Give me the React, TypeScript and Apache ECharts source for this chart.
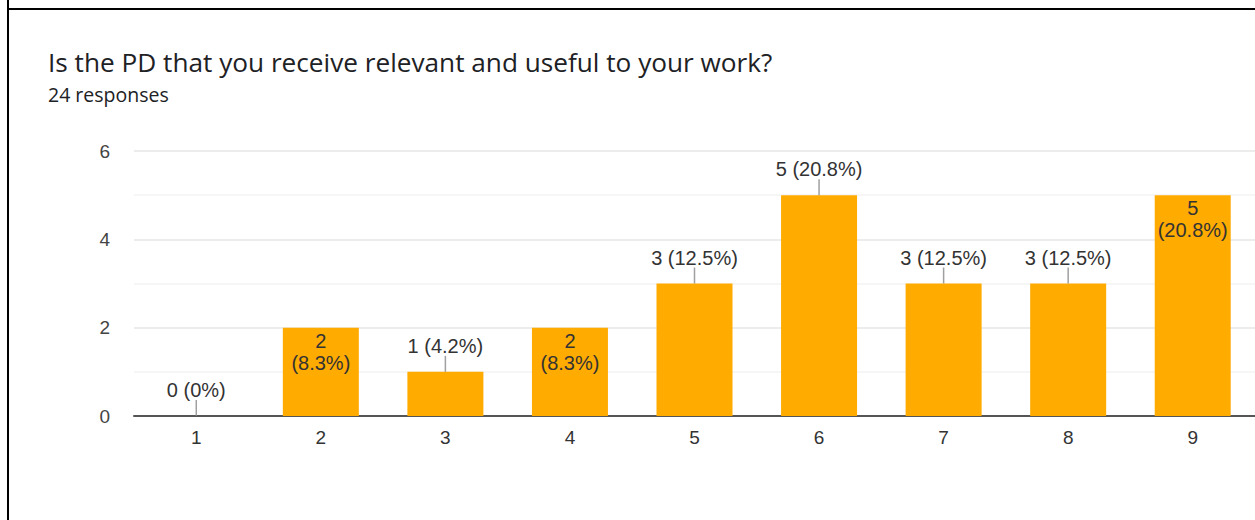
import React, { useEffect, useRef } from "react";
import * as echarts from "echarts";

const TITLE = "Is the PD that you receive relevant and useful to your work?";
const SUBTITLE = "24 responses";
const categories = ["1", "2", "3", "4", "5", "6", "7", "8", "9"];
const counts = [0, 2, 1, 2, 3, 5, 3, 3, 5];
const insideLabelIdx = [1, 3, 8];

const total = counts.reduce((a, b) => a + b, 0);
const pct = (v: number) => String(Math.round((v / total) * 1000) / 10);

export default function App() {
  const ref = useRef<HTMLDivElement>(null);
  useEffect(() => {
    if (!ref.current) return;
    const chart = echarts.init(ref.current, null, { renderer: "svg" });
    const labelFont = "'Liberation Sans', Arial, sans-serif";
    const barData = counts.map((v, i) => {
      const inside = insideLabelIdx.includes(i);
      return {
        value: v,
        label: inside
          ? {
              show: true,
              position: "insideTop",
              distance: 2,
              formatter: () => `${v}\n(${pct(v)}%)`,
              lineHeight: 22,
            }
          : {
              show: true,
              position: "top",
              distance: 16,
              formatter: () => `${v} (${pct(v)}%)`,
              lineHeight: 20,
            },
      };
    });
    const leaderData = counts.map((v, i) => (insideLabelIdx.includes(i) ? "-" : v));
    chart.setOption({
      animation: false,
      backgroundColor: "#ffffff",
      graphic: [
        {
          type: "rect",
          shape: { x: 8, y: 9, width: 1300, height: 600 },
          style: { fill: "none", stroke: "#000", lineWidth: 2 },
          silent: true,
        },
        {
          type: "line",
          shape: { x1: 8, y1: 0, x2: 8, y2: 9 },
          style: { stroke: "#000", lineWidth: 2 },
          silent: true,
        },
        {
          type: "text",
          x: 48,
          y: 62,
          silent: true,
          style: {
            text: TITLE,
            font: "400 26.2px 'Open Sans', sans-serif",
            fill: "#202124",
            verticalAlign: "middle",
            align: "left",
          },
        },
        {
          type: "text",
          x: 48,
          y: 94,
          silent: true,
          style: {
            text: SUBTITLE,
            font: "400 19.5px 'Open Sans', sans-serif",
            fill: "#202124",
            verticalAlign: "middle",
            align: "left",
          },
        },
      ],
      grid: { left: 134, right: 0, top: 151, bottom: 104 },
      xAxis: {
        type: "category",
        data: categories,
        axisTick: { show: false },
        axisLine: { lineStyle: { color: "#555", width: 2 } },
        axisLabel: { color: "#333", fontSize: 19, fontFamily: labelFont, margin: 12 },
      },
      yAxis: {
        type: "value",
        min: 0,
        max: 6,
        interval: 1,
        axisLine: { show: false },
        axisTick: { show: false },
        axisLabel: {
          color: "#444",
          fontSize: 19,
          fontFamily: labelFont,
          margin: 24,
          formatter: (v: number) => (v % 2 === 0 ? String(v) : ""),
        },
        splitLine: { lineStyle: { color: ["#e6e6e6", "#f3f3f3"], width: 1.5 } },
      },
      series: [
        {
          type: "bar",
          data: barData,
          barWidth: 76,
          itemStyle: { color: "#ffab00" },
          label: { color: "#333", fontSize: 20, fontFamily: labelFont },
          z: 2,
        },
        {
          type: "scatter",
          data: leaderData,
          symbol: "rect",
          symbolSize: [1.5, 16],
          symbolOffset: [0, "-50%"],
          itemStyle: { color: "#888" },
          silent: true,
          z: 3,
        },
      ],
    });
    return () => chart.dispose();
  }, []);
  return <div ref={ref} style={{ position: "absolute", left: 0, top: 0, width: 1255, height: 520 }} />;
}
